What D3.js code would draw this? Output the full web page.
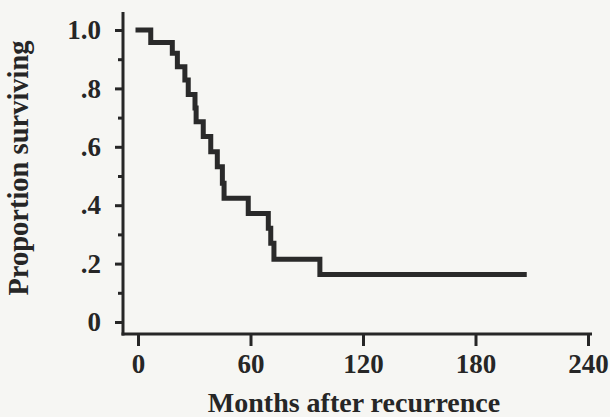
<!DOCTYPE html>
<html>
<head>
<meta charset="utf-8">
<script src="https://cdn.jsdelivr.net/npm/d3@7"></script>
<style>
  body { margin: 0; background: #f6f6f3; }
  svg { display: block; }
  text { font-family: "Liberation Serif", "Times New Roman", serif; fill: #262626; }
</style>
</head>
<body>
<svg id="chart" width="610" height="417"></svg>
<script>
// step points of the survival curve (months, proportion)
var months   = [0, 6.8, 18.3, 21, 25, 26.8, 30.4, 31, 34.8, 38.8, 42.3, 45, 45.9, 58.8, 69.5, 70.8, 72.5, 97, 206];
var survival = [1.0, 0.957, 0.92, 0.874, 0.829, 0.779, 0.733, 0.686, 0.635, 0.583, 0.532, 0.475, 0.424, 0.372, 0.321, 0.27, 0.215, 0.163, 0.163];

var xTicks = [0, 60, 120, 180, 240];
var yTicks = [0, 0.2, 0.4, 0.6, 0.8, 1.0];
var yMinor = [0.1, 0.3, 0.5, 0.7, 0.9];
var yLabels = ["0", ".2", ".4", ".6", ".8", "1.0"];

var svg = d3.select("#chart");
var ink = "#262626";

var x = d3.scaleLinear().domain([0, 240]).range([138, 588]);
var y = d3.scaleLinear().domain([0, 1]).range([322, 30]);

var axisX = 123, axisY = 334;

// axis lines
svg.append("line")
    .attr("x1", axisX).attr("x2", axisX)
    .attr("y1", 12).attr("y2", axisY + 1.5)
    .attr("stroke", ink).attr("stroke-width", 3);
svg.append("line")
    .attr("x1", axisX - 1.5).attr("x2", 592)
    .attr("y1", axisY).attr("y2", axisY)
    .attr("stroke", ink).attr("stroke-width", 3);

// x axis
var gx = svg.append("g")
    .attr("transform", "translate(0," + axisY + ")")
    .call(d3.axisBottom(x).tickValues(xTicks).tickSize(12).tickPadding(8).tickSizeOuter(0));
gx.select(".domain").remove();
gx.selectAll(".tick line").attr("stroke", ink).attr("stroke-width", 3);
gx.selectAll(".tick text")
    .attr("font-size", 27).attr("font-weight", "bold")
    .attr("font-family", "Liberation Serif").attr("fill", ink);

// y axis, major ticks
var gy = svg.append("g")
    .attr("transform", "translate(" + axisX + ",0)")
    .call(d3.axisLeft(y).tickValues(yTicks).tickSize(8).tickPadding(14)
        .tickFormat(function(d, i) { return yLabels[i]; }));
gy.select(".domain").remove();
gy.selectAll(".tick line").attr("stroke", ink).attr("stroke-width", 3);
gy.selectAll(".tick text")
    .attr("font-size", 27).attr("font-weight", "bold")
    .attr("font-family", "Liberation Serif").attr("fill", ink);

// y axis, minor ticks
var gym = svg.append("g")
    .attr("transform", "translate(" + axisX + ",0)")
    .call(d3.axisLeft(y).tickValues(yMinor).tickSize(5).tickFormat(""));
gym.select(".domain").remove();
gym.selectAll(".tick line").attr("stroke", ink).attr("stroke-width", 3);

// survival curve
var pts = months.map(function(m, i) { return [m, survival[i]]; });
var line = d3.line()
    .x(function(d) { return x(d[0]); })
    .y(function(d) { return y(d[1]); })
    .curve(d3.curveStepAfter);

svg.append("path")
    .datum(pts)
    .attr("d", line)
    .attr("fill", "none")
    .attr("stroke", "#2a2a2a")
    .attr("stroke-width", 5)
    .attr("stroke-linecap", "square");

// axis titles
svg.append("text")
    .attr("x", 354).attr("y", 412)
    .attr("text-anchor", "middle")
    .attr("font-size", 28).attr("font-weight", "bold")
    .text("Months after recurrence");

svg.append("text")
    .attr("transform", "translate(28,168) rotate(-90)")
    .attr("text-anchor", "middle")
    .attr("font-size", 28.5).attr("font-weight", "bold")
    .text("Proportion surviving");
</script>
</body>
</html>
